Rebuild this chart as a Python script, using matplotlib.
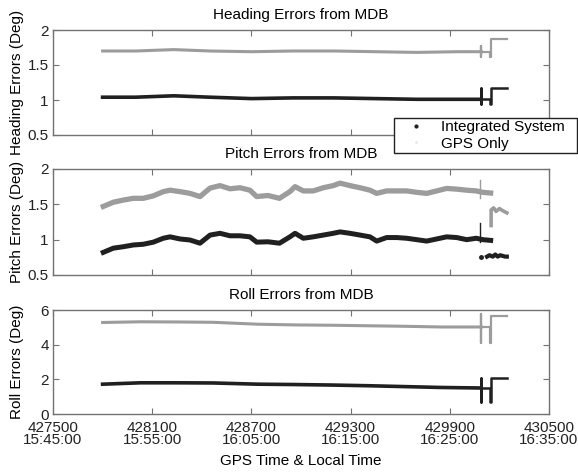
import matplotlib
matplotlib.use("Agg")
import matplotlib.pyplot as plt
from matplotlib.lines import Line2D

plt.rcParams['font.family'] = ['Liberation Sans', 'DejaVu Sans']

# x axis: GPS seconds and matching local time
gps_ticks = [427500, 428100, 428700, 429300, 429900, 430500]
local_times = ["15:45:00", "15:55:00", "16:05:00", "16:15:00", "16:25:00", "16:35:00"]

# --- heading errors (deg) ---
heading_t = [427800, 428000, 428230, 428450, 428700, 428950, 429200, 429450, 429700, 429950, 430090]
heading_gps = [1.70, 1.70, 1.72, 1.70, 1.69, 1.70, 1.70, 1.69, 1.68, 1.69, 1.69]
heading_ins = [1.04, 1.04, 1.06, 1.04, 1.02, 1.03, 1.03, 1.02, 1.01, 1.01, 1.01]
heading_tail_t = [430090, 430090, 430090, 430090, 430143, 430143, 430150, 430150, 430245]
heading_tail_gps = [1.69, 1.77, 1.61, 1.69, 1.69, 1.61, 1.61, 1.87, 1.87]
heading_tail_ins = [1.01, 1.17, 0.94, 1.01, 1.01, 0.94, 0.94, 1.17, 1.17]

# --- pitch errors (deg) ---
pitch_t = [427804, 427865, 427925, 427986, 428046, 428107, 428167, 428208, 428268, 428329,
           428389, 428450, 428510, 428570, 428631, 428691, 428732, 428800, 428870, 428933,
           428964, 429014, 429074, 429135, 429195, 429236, 429296, 429357, 429417, 429458,
           429518, 429579, 429639, 429700, 429760, 429821, 429881, 429942, 430002, 430060,
           430100, 430147]
pitch_gps = [1.47, 1.53, 1.56, 1.585, 1.585, 1.62, 1.68, 1.70, 1.68, 1.655,
             1.61, 1.73, 1.765, 1.72, 1.735, 1.70, 1.61, 1.625, 1.585, 1.68,
             1.75, 1.69, 1.69, 1.735, 1.765, 1.80, 1.765, 1.735, 1.70, 1.655,
             1.69, 1.69, 1.69, 1.67, 1.655, 1.69, 1.725, 1.715, 1.70, 1.69,
             1.67, 1.66]
pitch_ins = [0.82, 0.88, 0.90, 0.925, 0.935, 0.965, 1.02, 1.04, 1.01, 0.995,
             0.95, 1.065, 1.09, 1.055, 1.055, 1.04, 0.965, 0.97, 0.95, 1.04,
             1.09, 1.02, 1.04, 1.065, 1.09, 1.11, 1.09, 1.065, 1.04, 0.98,
             1.03, 1.03, 1.02, 1.00, 0.98, 1.01, 1.04, 1.03, 1.00, 1.02,
             1.00, 0.99]
pitch_spike_t = [430085, 430085]
pitch_spike_gps = [1.585, 1.85]
pitch_spike_ins = [0.97, 1.23]
pitch_dot_t = [430088]
pitch_dot_ins = [0.76]
pitch_tail_gps_t = [430150, 430150, 430165, 430180, 430200, 430220, 430245]
pitch_tail_gps = [1.20, 1.42, 1.45, 1.40, 1.44, 1.41, 1.38]
pitch_tail_ins_t = [430125, 430140, 430160, 430175, 430190, 430205, 430220, 430235, 430245]
pitch_tail_ins = [0.76, 0.78, 0.76, 0.79, 0.76, 0.78, 0.77, 0.76, 0.76]

# --- roll errors (deg) ---
roll_t = [427800, 428030, 428250, 428470, 428740, 428960, 429190, 429410, 429630, 429850, 430090]
roll_gps = [5.28, 5.32, 5.31, 5.29, 5.18, 5.14, 5.12, 5.09, 5.06, 5.02, 5.02]
roll_ins = [1.72, 1.80, 1.80, 1.79, 1.72, 1.70, 1.67, 1.63, 1.58, 1.53, 1.50]
roll_tail_t = [430090, 430090, 430090, 430090, 430143, 430143, 430150, 430150, 430245]
roll_tail_gps = [5.02, 5.75, 4.10, 5.02, 5.02, 4.10, 4.10, 5.65, 5.65]
roll_tail_ins = [1.50, 2.10, 0.70, 1.50, 1.50, 0.70, 0.70, 2.05, 2.05]

GPS_COLOR = '#9c9c9c'
INS_COLOR = '#202020'
FRAME = '0.45'

W, H = 578, 472
fig = plt.figure(figsize=(W / 100, H / 100), dpi=100)


def make_axes(top_px, bottom_px):
    return fig.add_axes([53 / W, 1 - bottom_px / H, 496 / W, (bottom_px - top_px) / H])


def style(ax, title, ylabel, yticks, ylabels, ylim, show_x):
    ax.set_xlim(427500, 430500)
    ax.set_ylim(*ylim)
    ax.set_title(title, fontsize=11, pad=8)
    ax.set_ylabel(ylabel, fontsize=11)
    ax.yaxis.set_label_coords(-0.058, 0.5)
    ax.set_yticks(yticks, labels=ylabels)
    if show_x:
        ax.set_xticks(gps_ticks, labels=[f"{g}\n{t}" for g, t in zip(gps_ticks, local_times)])
        for lbl in ax.get_xticklabels():
            lbl.set_linespacing(0.85)
    else:
        ax.set_xticks(gps_ticks, labels=[])
    ax.tick_params(direction='in', top=True, right=True, length=4, width=0.8,
                   color=FRAME, labelsize=11, labelcolor='#222222', pad=3)
    ax.tick_params(axis='x', pad=5)
    for sp in ax.spines.values():
        sp.set_color(FRAME)
        sp.set_linewidth(1.0)


# heading
ax1 = make_axes(30, 135)
ax1.plot(heading_t, heading_gps, color=GPS_COLOR, lw=2.2)
ax1.plot(heading_t, heading_ins, color=INS_COLOR, lw=2.6)
ax1.plot(heading_tail_t, heading_tail_gps, color=GPS_COLOR, lw=1.6)
ax1.plot(heading_tail_t, heading_tail_ins, color=INS_COLOR, lw=1.8)
style(ax1, 'Heading Errors from MDB', 'Heading Errors (Deg)',
      [0.5, 1, 1.5, 2], ['0.5', '1', '1.5', '2'], (0.5, 2), False)

# pitch
ax2 = make_axes(169, 275)
ax2.plot(pitch_t, pitch_gps, color=GPS_COLOR, lw=3.8)
ax2.plot(pitch_t, pitch_ins, color=INS_COLOR, lw=3.6)
ax2.plot(pitch_spike_t, pitch_spike_gps, color=GPS_COLOR, lw=1.0)
ax2.plot(pitch_spike_t, pitch_spike_ins, color=INS_COLOR, lw=1.0)
ax2.plot(pitch_dot_t, pitch_dot_ins, '.', color=INS_COLOR, ms=5)
ax2.plot(pitch_tail_gps_t, pitch_tail_gps, color=GPS_COLOR, lw=2.6)
ax2.plot(pitch_tail_ins_t, pitch_tail_ins, color=INS_COLOR, lw=3.0)
style(ax2, 'Pitch Errors from MDB', 'Pitch Errors (Deg)',
      [0.5, 1, 1.5, 2], ['0.5', '1', '1.5', '2'], (0.5, 2), False)

# roll
ax3 = make_axes(310, 414)
ax3.plot(roll_t, roll_gps, color=GPS_COLOR, lw=2.2)
ax3.plot(roll_t, roll_ins, color=INS_COLOR, lw=2.6)
ax3.plot(roll_tail_t, roll_tail_gps, color=GPS_COLOR, lw=1.6)
ax3.plot(roll_tail_t, roll_tail_ins, color=INS_COLOR, lw=1.8)
style(ax3, 'Roll Errors from MDB', 'Roll Errors (Deg)',
      [0, 2, 4, 6], ['0', '2', '4', '6'], (0, 6), True)
ax3.set_xlabel('GPS Time & Local Time', fontsize=11, labelpad=5)

handles = [Line2D([], [], ls='none', marker='.', ms=4, color=INS_COLOR),
           Line2D([], [], ls='none', marker='.', ms=2, color='#e8e8e8')]
fig.legend(handles, ['Integrated System', 'GPS Only'], loc='upper left',
           bbox_to_anchor=(394 / W, 1 - 118 / H, 183 / W, 0.0), mode='expand',
           frameon=True, fancybox=False, edgecolor='#222222', framealpha=1,
           borderaxespad=0, borderpad=0.15, handlelength=2.6, handletextpad=0.3,
           labelspacing=0.15, fontsize=11)

fig.savefig('out.png', dpi=100)
